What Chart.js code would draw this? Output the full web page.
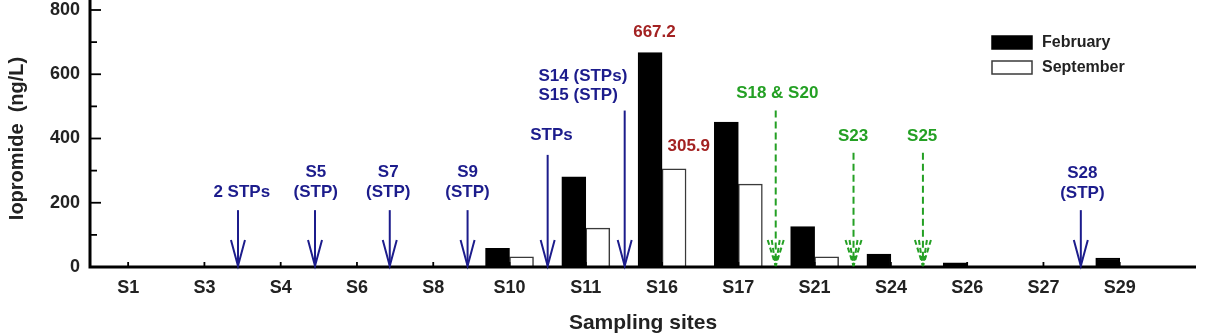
<!DOCTYPE html>
<html>
<head>
<meta charset="utf-8">
<script src="https://cdn.jsdelivr.net/npm/chart.js@4.4.1/dist/chart.umd.min.js"></script>
<style>
  html, body { margin: 0; padding: 0; background: #fff; }
  #wrap { width: 1206px; height: 333px; }
</style>
</head>
<body>
<div id="wrap"><canvas id="chart" width="1206" height="333"></canvas></div>
<script>
// site order along the x axis
const sites = ["S1", "S3", "S4", "S6", "S8", "S10", "S11", "S16", "S17", "S21", "S24", "S26", "S27", "S29"];
// iopromide (ng/L)
const february = [0, 0, 0, 0, 0, 58, 281, 667.2, 451, 126, 40, 13, 0, 28];
const september = [0, 0, 0, 0, 0, 32, 121, 305.9, 258, 32, 0, 0, 0, 0];
const yTicks = [0, 200, 400, 600, 800];
const yMinor = [100, 300, 500, 700];

// discharge points (x in site-index units, y in ng/L)
const markers = [
  { x: 2.44, top: 177, kind: "stp", text: ["2 STPs"], tx: 2.49, ty: [232] },
  { x: 3.45, top: 177, kind: "stp", text: ["S5", "(STP)"], tx: 3.46, ty: [296, 232] },
  { x: 4.43, top: 177, kind: "stp", text: ["S7", "(STP)"], tx: 4.41, ty: [296, 232] },
  { x: 5.45, top: 177, kind: "stp", text: ["S9", "(STP)"], tx: 5.45, ty: [296, 232] },
  { x: 6.5, top: 349, kind: "stp", text: ["STPs"], tx: 6.55, ty: [409] },
  { x: 7.51, top: 487, kind: "stp", text: ["S14 (STPs)", "S15 (STP)"], tx: 6.38, align: "left", ty: [593, 533] },
  { x: 9.49, top: 487, kind: "trib", text: ["S18 & S20"], tx: 9.51, ty: [541] },
  { x: 10.51, top: 356, kind: "trib", text: ["S23"], tx: 10.505, ty: [406] },
  { x: 11.42, top: 356, kind: "trib", text: ["S25"], tx: 11.41, ty: [406] },
  { x: 13.49, top: 177, kind: "stp", text: ["S28", "(STP)"], tx: 13.51, ty: [292, 230] },
];

const FONT = "'Liberation Sans', Arial, Helvetica, sans-serif";
const BLUE = "#1c1c8c";
const GREEN = "#24a024";
const RED = "#a32222";

Chart.defaults.font.family = FONT;
Chart.defaults.color = "#222";

function toPoints(values) {
  return values.map((v, i) => ({ x: i + 1, y: v }));
}

// axes with inward ticks
const axesPlugin = {
  id: "axes",
  afterDatasetsDraw(chart) {
    const { ctx, chartArea, scales } = chart;
    const x = scales.x, y = scales.y;
    const x0 = chartArea.left, y0 = y.getPixelForValue(0);
    ctx.save();
    ctx.strokeStyle = "#000";
    ctx.lineWidth = 1.8;
    yTicks.forEach((v) => {
      const py = y.getPixelForValue(v);
      ctx.beginPath(); ctx.moveTo(x0, py); ctx.lineTo(x0 + 11, py); ctx.stroke();
    });
    yMinor.forEach((v) => {
      const py = y.getPixelForValue(v);
      ctx.beginPath(); ctx.moveTo(x0, py); ctx.lineTo(x0 + 7, py); ctx.stroke();
    });
    sites.forEach((s, i) => {
      const px = x.getPixelForValue(i + 1);
      ctx.beginPath(); ctx.moveTo(px, y0); ctx.lineTo(px, y0 - 5); ctx.stroke();
    });
    ctx.lineWidth = 3;
    ctx.beginPath();
    ctx.moveTo(x0, 0);
    ctx.lineTo(x0, y0);
    ctx.lineTo(chartArea.right, y0);
    ctx.stroke();
    ctx.restore();
  },
};

// arrows, their labels, value labels and legend
const notesPlugin = {
  id: "notes",
  afterDraw(chart) {
    const { ctx, chartArea, scales } = chart;
    const x = scales.x, y = scales.y;
    const tipY = y.getPixelForValue(0) - 1;
    ctx.save();
    ctx.font = "bold 17px " + FONT;
    ctx.textBaseline = "middle";

    markers.forEach((m) => {
      const color = m.kind === "stp" ? BLUE : GREEN;
      const px = x.getPixelForValue(m.x);
      const top = y.getPixelForValue(m.top);
      ctx.strokeStyle = color;
      ctx.lineWidth = 2;
      if (m.kind === "stp") {
        ctx.setLineDash([]);
        ctx.beginPath(); ctx.moveTo(px, top); ctx.lineTo(px, tipY); ctx.stroke();
        ctx.beginPath();
        ctx.moveTo(px - 7, tipY - 26); ctx.lineTo(px, tipY); ctx.lineTo(px + 7, tipY - 26);
        ctx.stroke();
      } else {
        ctx.setLineDash([7, 4]);
        ctx.beginPath(); ctx.moveTo(px, top); ctx.lineTo(px, tipY); ctx.stroke();
        ctx.setLineDash([5, 3]);
        [8, 4].forEach((w) => {
          ctx.beginPath();
          ctx.moveTo(px - w, tipY - 26); ctx.lineTo(px, tipY);
          ctx.moveTo(px + w, tipY - 26); ctx.lineTo(px, tipY);
          ctx.stroke();
        });
        ctx.setLineDash([]);
      }
      ctx.fillStyle = color;
      ctx.textAlign = m.align || "center";
      m.text.forEach((t, i) => {
        ctx.fillText(t, x.getPixelForValue(m.tx), y.getPixelForValue(m.ty[i]));
      });
    });

    // highlighted values at S16
    ctx.fillStyle = RED;
    ctx.textAlign = "center";
    ctx.fillText(february[7].toFixed(1), x.getPixelForValue(7.9), y.getPixelForValue(732));
    ctx.fillText(september[7].toFixed(1), x.getPixelForValue(8.35), y.getPixelForValue(377));

    // legend
    const lx = chartArea.right - 204;
    let ly = y.getPixelForValue(800) + 26;
    ctx.font = "bold 16px " + FONT;
    ctx.textAlign = "left";
    chart.data.datasets.forEach((ds) => {
      ctx.fillStyle = ds.backgroundColor;
      ctx.fillRect(lx, ly, 40, 13);
      ctx.strokeStyle = ds.borderColor;
      ctx.lineWidth = 1.5;
      ctx.strokeRect(lx, ly, 40, 13);
      ctx.fillStyle = "#222";
      ctx.fillText(ds.label, lx + 50, ly + 7);
      ly += 25;
    });
    ctx.restore();
  },
};

new Chart(document.getElementById("chart"), {
  type: "bar",
  data: {
    datasets: [
      {
        label: "February",
        data: toPoints(february),
        backgroundColor: "#000",
        borderColor: "#000",
        borderWidth: (c) => (c.raw && c.raw.y > 0 ? 1.5 : 0),
        barThickness: 24,
      },
      {
        label: "September",
        data: toPoints(september),
        backgroundColor: "#fff",
        borderColor: "#3a3a3a",
        borderWidth: (c) => (c.raw && c.raw.y > 0 ? 1.5 : 0),
        barThickness: 24,
      },
    ],
  },
  options: {
    responsive: false,
    devicePixelRatio: 1,
    animation: false,
    layout: { padding: { top: 0, right: 10, left: 0, bottom: 0 } },
    plugins: { legend: { display: false }, tooltip: { enabled: false } },
    scales: {
      x: {
        type: "linear",
        offset: false,
        min: 0.5,
        max: 15,
        afterBuildTicks: (s) => { s.ticks = sites.map((n, i) => ({ value: i + 1 })); },
        afterFit: (s) => { s.height = 66; },
        ticks: {
          autoSkip: false,
          maxRotation: 0,
          padding: 10,
          color: "#222",
          font: { size: 18, weight: "bold" },
          callback: (v) => sites[v - 1],
        },
        grid: { display: false, drawTicks: false, offset: false },
        border: { display: false },
        title: {
          display: true,
          text: "Sampling sites",
          color: "#222",
          font: { size: 21, weight: "bold" },
          padding: { top: 0, bottom: -3 },
        },
      },
      y: {
        min: 0,
        max: 800,
        afterBuildTicks: (s) => { s.ticks = yTicks.map((v) => ({ value: v })); },
        afterFit: (s) => { s.width = 90; s.paddingTop = 10; s.paddingBottom = 0; },
        ticks: { padding: 10, color: "#222", font: { size: 18, weight: "bold" } },
        grid: { display: false, drawTicks: false },
        border: { display: false },
        title: {
          display: true,
          text: "Iopromide  (ng/L)",
          color: "#222",
          font: { size: 20, weight: "bold" },
          padding: { top: 5, bottom: 0 },
        },
      },
    },
  },
  plugins: [axesPlugin, notesPlugin],
});
</script>
</body>
</html>
